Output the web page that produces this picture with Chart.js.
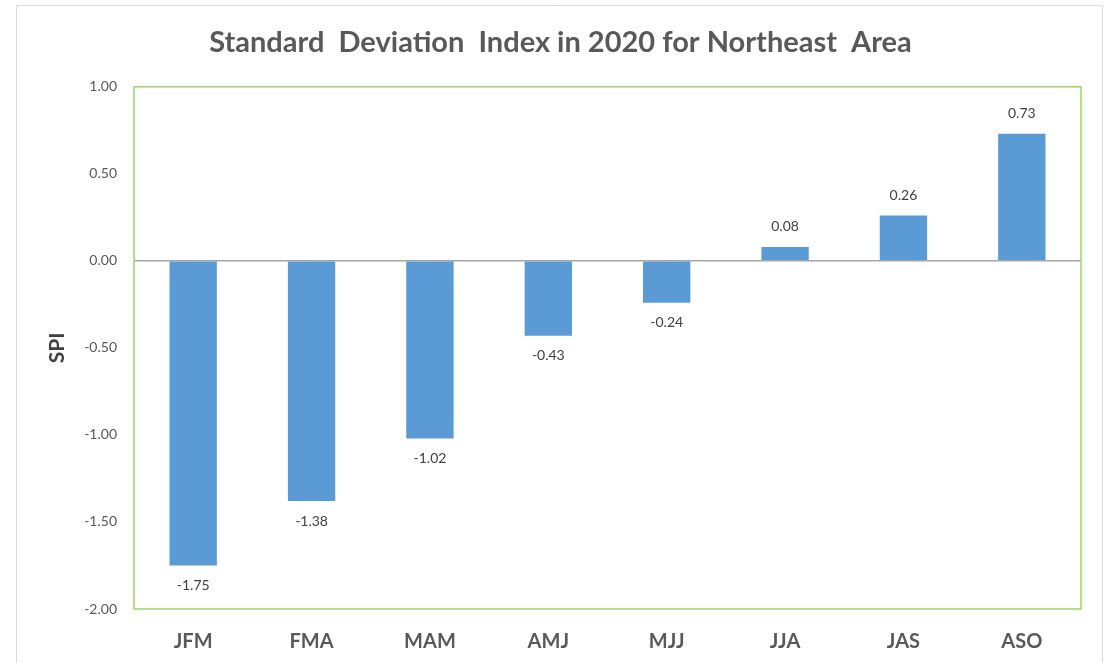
<!DOCTYPE html>
<html>
<head>
<meta charset="utf-8">
<script src="https://cdn.jsdelivr.net/npm/chart.js@4"></script>
<style>
  html, body { margin: 0; padding: 0; background: #fff; }
  #wrap { width: 1109px; height: 663px; }
</style>
</head>
<body>
<div id="wrap"><canvas id="myChart" width="1109" height="663"></canvas></div>
<script>
const seasons = ['JFM', 'FMA', 'MAM', 'AMJ', 'MJJ', 'JJA', 'JAS', 'ASO'];
const spiValues = [-1.75, -1.38, -1.02, -0.43, -0.24, 0.08, 0.26, 0.73];
const yTicks = [1.00, 0.50, 0.00, -0.50, -1.00, -1.50, -2.00];

const fontFamily = 'Lato, "Open Sans", sans-serif';

// outer frame, green plot border and value labels
const decorPlugin = {
    id: 'decor',
    beforeDraw(chart) {
        const c = chart.ctx;
        c.save();
        c.strokeStyle = '#d9d9d9';
        c.lineWidth = 1;
        c.beginPath();
        c.moveTo(16.5, 700);
        c.lineTo(16.5, 5.5);
        c.lineTo(1102.5, 5.5);
        c.lineTo(1102.5, 700);
        c.stroke();
        c.restore();
    },
    afterDatasetsDraw(chart) {
        const c = chart.ctx;
        const a = chart.chartArea;
        c.save();
        c.strokeStyle = '#9dd46a';
        c.lineWidth = 1.5;
        c.strokeRect(a.left, a.top, a.right - a.left, a.bottom - a.top);

        const meta = chart.getDatasetMeta(0);
        c.fillStyle = '#404040';
        c.font = '14px ' + fontFamily;
        c.textAlign = 'center';
        c.textBaseline = 'middle';
        meta.data.forEach(function (bar, i) {
            const v = spiValues[i];
            const y = v >= 0 ? bar.y - 20 : bar.y + 20;
            c.fillText(v.toFixed(2), bar.x, y);
        });
        c.restore();
    }
};

const ctx = document.getElementById('myChart');
const myChart = new Chart(ctx, {
    type: 'bar',
    data: {
        labels: seasons,
        datasets: [{
            label: 'SPI',
            data: spiValues,
            backgroundColor: '#5b9bd5',
            borderWidth: 0,
            categoryPercentage: 0.8,
            barPercentage: 0.5
        }]
    },
    options: {
        responsive: false,
        animation: false,
        layout: {
            padding: { left: 40, right: 28, top: 5, bottom: 0 }
        },
        plugins: {
            legend: { display: false },
            tooltip: { enabled: false },
            title: {
                display: true,
                text: 'Standard  Deviation  Index in 2020 for Northeast  Area',
                color: '#595959',
                font: { family: fontFamily, size: 29, weight: 'bold' },
                padding: { top: 20, bottom: 27 }
            }
        },
        scales: {
            x: {
                grid: { display: false },
                border: { display: false },
                ticks: {
                    color: '#595959',
                    padding: 13,
                    font: { family: fontFamily, size: 20, weight: 'bold' }
                },
                afterFit: function (scale) { scale.height = 54; }
            },
            y: {
                min: -2,
                max: 1,
                afterBuildTicks: function (scale) {
                    scale.ticks = yTicks.map(v => ({ value: v }));
                },
                grid: {
                    drawTicks: false,
                    color: function (c) { return c.tick && c.tick.value === 0 ? '#a6a6a6' : 'rgba(0,0,0,0)'; },
                    lineWidth: 1.5
                },
                border: { display: false },
                ticks: {
                    color: '#595959',
                    padding: 17,
                    font: { family: fontFamily, size: 14 },
                    callback: function (val) { return Number(val).toFixed(2); }
                },
                title: {
                    display: true,
                    text: 'SPI',
                    color: '#404040',
                    font: { family: fontFamily, size: 21, weight: 'bold' },
                    padding: { top: 5, bottom: 0 }
                },
                afterFit: function (scale) { scale.width = 94; }
            }
        }
    },
    plugins: [decorPlugin]
});
</script>
</body>
</html>
